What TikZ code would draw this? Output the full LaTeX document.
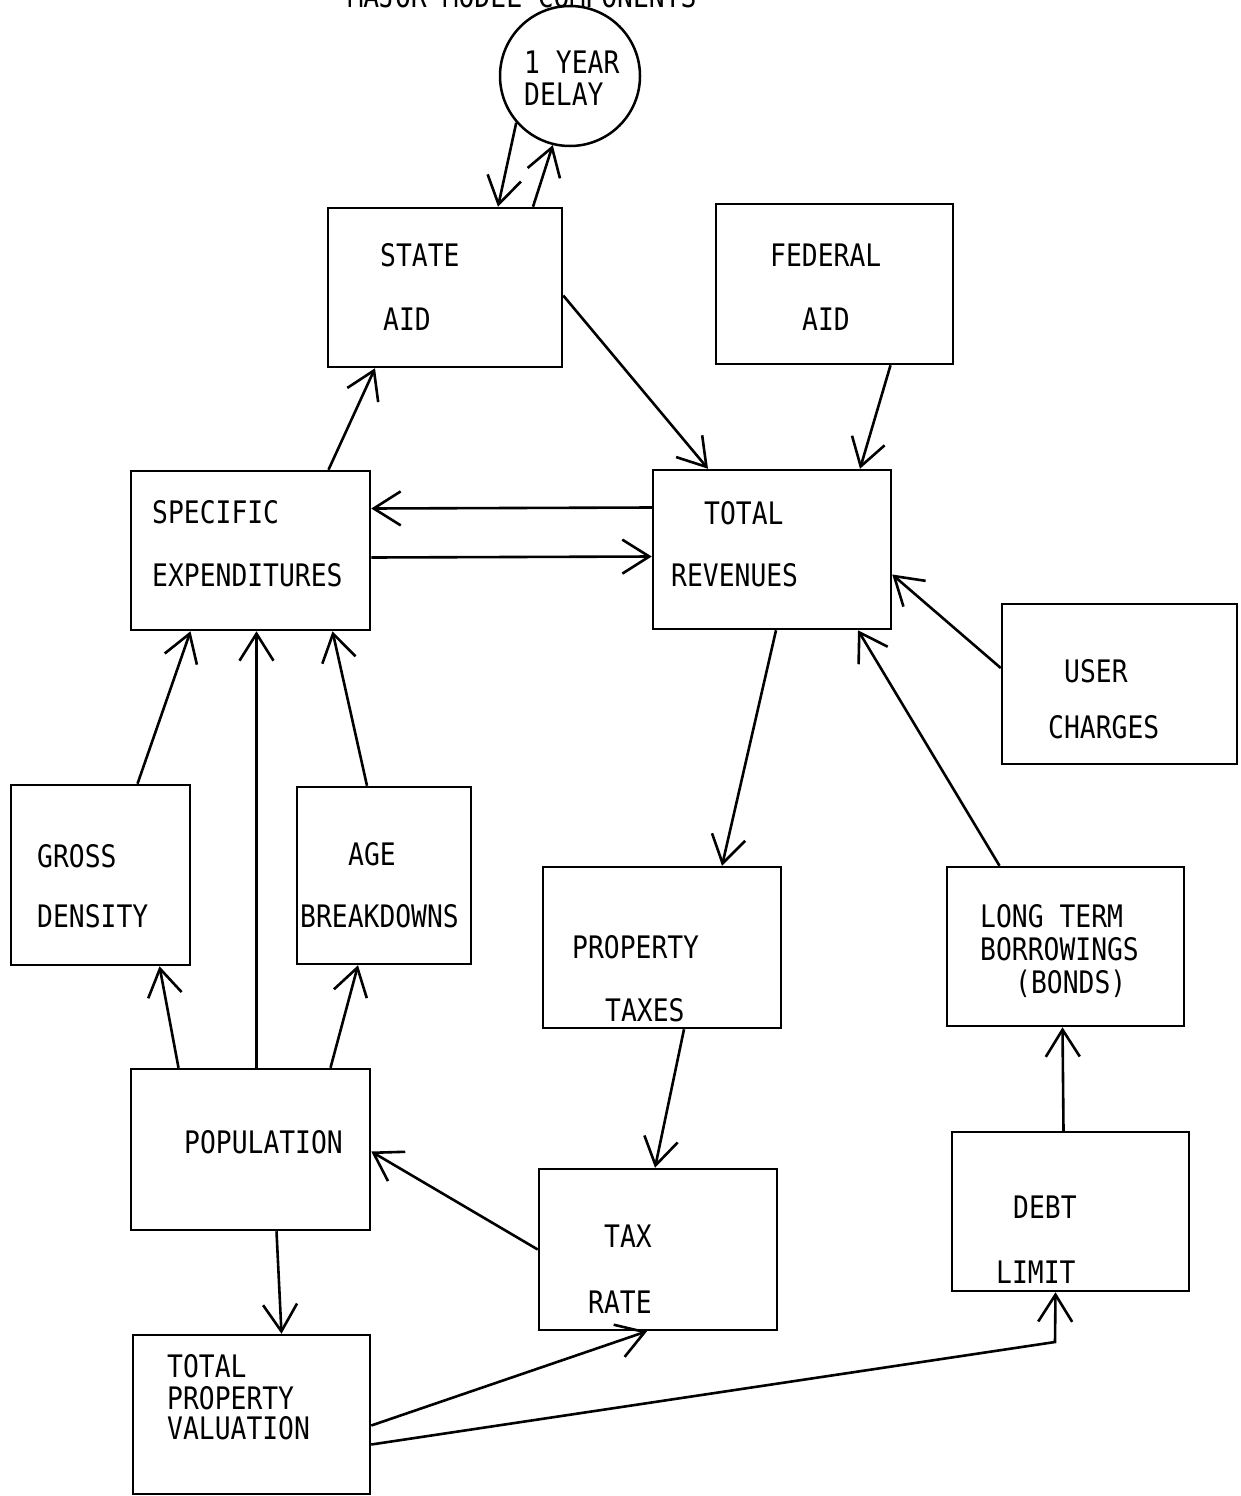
\documentclass[tikz,border=0pt]{standalone}
\usepackage{fontspec}
\usetikzlibrary{arrows.meta}
\newfontfamily\typefont[FakeStretch=0.85]{DejaVu Sans Mono}

\begin{document}
\begin{tikzpicture}[x=1pt,y=-1pt,
  box/.style={draw=black,line width=2.5pt,inner sep=0pt,rectangle},
  lbl/.style={anchor=west,inner sep=0pt,text height=23pt,text depth=0pt,font=\typefont\fontsize{31}{36}\selectfont},
  link/.style={line width=2.6pt,-{Straight Barb[length=27pt,width=34pt,line width=2.6pt]}}]
\useasboundingbox (0,0) rectangle (1241,1496);
\fill [white] (0,0) rectangle (1241,1496);
\node [lbl,anchor=base] (title) at (522,8) {MAJOR MODEL COMPONENTS};
\node [draw=black,line width=2.5pt,circle,minimum size=140pt,inner sep=0pt] (dly) at (570,76) {};
\node [lbl] (dly1) at (524,62) {1 YEAR};
\node [lbl] (dly2) at (524,94) {DELAY};
\node [box,minimum width=234pt,minimum height=159pt] (sa) at (445,287.5) {};
\node [lbl] (sa1) at (380,255) {STATE};
\node [lbl] (sa2) at (383,319) {AID};
\node [box,minimum width=237pt,minimum height=160pt] (fa) at (834.5,284) {};
\node [lbl] (fa1) at (770,255) {FEDERAL};
\node [lbl] (fa2) at (802,319) {AID};
\node [box,minimum width=239pt,minimum height=159pt] (se) at (250.5,550.5) {};
\node [lbl] (se1) at (152,512) {SPECIFIC};
\node [lbl] (se2) at (152,575) {EXPENDITURES};
\node [box,minimum width=238pt,minimum height=159pt] (tr) at (772,549.5) {};
\node [lbl] (tr1) at (704,513) {TOTAL};
\node [lbl] (tr2) at (671,575) {REVENUES};
\node [box,minimum width=235pt,minimum height=160pt] (uc) at (1119.5,684) {};
\node [lbl] (uc1) at (1064,671) {USER};
\node [lbl] (uc2) at (1048,727) {CHARGES};
\node [box,minimum width=179pt,minimum height=180pt] (gd) at (100.5,875) {};
\node [lbl] (gd1) at (37,856) {GROSS};
\node [lbl] (gd2) at (37,916) {DENSITY};
\node [box,minimum width=174pt,minimum height=177pt] (ab) at (384,875.5) {};
\node [lbl] (ab1) at (348,854) {AGE};
\node [lbl] (ab2) at (300,916) {BREAKDOWNS};
\node [box,minimum width=238pt,minimum height=161pt] (pt) at (662,947.5) {};
\node [lbl] (pt1) at (572,947) {PROPERTY};
\node [lbl] (pt2) at (605,1010) {TAXES};
\node [box,minimum width=237pt,minimum height=159pt] (lt) at (1065.5,946.5) {};
\node [lbl] (lt1) at (980,916) {LONG TERM};
\node [lbl] (lt2) at (980,949) {BORROWINGS};
\node [lbl] (lt3) at (1015,982) {(BONDS)};
\node [box,minimum width=239pt,minimum height=161pt] (pop) at (250.5,1149.5) {};
\node [lbl] (pop1) at (184,1142) {POPULATION};
\node [box,minimum width=238pt,minimum height=161pt] (tx) at (658,1249.5) {};
\node [lbl] (tx1) at (604,1236) {TAX};
\node [lbl] (tx2) at (588,1302) {RATE};
\node [box,minimum width=237pt,minimum height=159pt] (dl) at (1070.5,1211.5) {};
\node [lbl] (dl1) at (1013,1207) {DEBT};
\node [lbl] (dl2) at (996,1272) {LIMIT};
\node [box,minimum width=237pt,minimum height=159pt] (tpv) at (251.5,1414.5) {};
\node [lbl] (tpv1) at (167,1366) {TOTAL};
\node [lbl] (tpv2) at (167,1398) {PROPERTY};
\node [lbl] (tpv3) at (167,1428) {VALUATION};
\coordinate (bend) at (1055,1342);
\draw [link] (dly.221) -- ([xshift=53pt]sa.north);
\draw [link] ([xshift=88pt]sa.north) -- (dly.256);
\draw [link] ([xshift=78pt]se.north) -- ([xshift=-70pt]sa.south);
\draw [link] ([yshift=-8pt]sa.east) -- ([xshift=-64pt]tr.north);
\draw [link] ([xshift=56pt]fa.south) -- ([xshift=88pt]tr.north);
\draw [link] ([yshift=42pt]tr.west) -- ([yshift=42pt]se.east);
\draw [link] ([yshift=-7pt]se.east) -- ([yshift=-7pt]tr.west);
\draw [link] ([yshift=16pt]uc.west) -- ([yshift=-25pt]tr.east);
\draw [link] ([xshift=-66pt]lt.north) -- ([xshift=86pt]tr.south);
\draw [link] ([xshift=4pt]tr.south) -- ([xshift=60pt]pt.north);
\draw [link] ([xshift=37pt]gd.north) -- ([xshift=-60pt]se.south);
\draw [link] ([xshift=6pt]pop.north) -- ([xshift=6pt]se.south);
\draw [link] ([xshift=-17pt]ab.north) -- ([xshift=82pt]se.south);
\draw [link] ([xshift=-72pt]pop.north) -- ([xshift=59pt]gd.south);
\draw [link] ([xshift=80pt]pop.north) -- ([xshift=-26pt]ab.south);
\draw [link] ([xshift=22pt]pt.south) -- ([xshift=-3pt]tx.north);
\draw [link] (tx.west) -- ([yshift=-2pt]pop.east);
\draw [link] ([xshift=26pt]pop.south) -- ([xshift=30pt]tpv.north);
\draw [link] ([yshift=-11pt]tpv.east) -- ([xshift=-11pt]tx.south);
\draw [link] ([yshift=-30pt]tpv.east) -- (bend) -- ([xshift=-15pt]dl.south);
\draw [link] ([xshift=-7pt]dl.north) -- ([xshift=-3pt]lt.south);
\end{tikzpicture}
\end{document}
